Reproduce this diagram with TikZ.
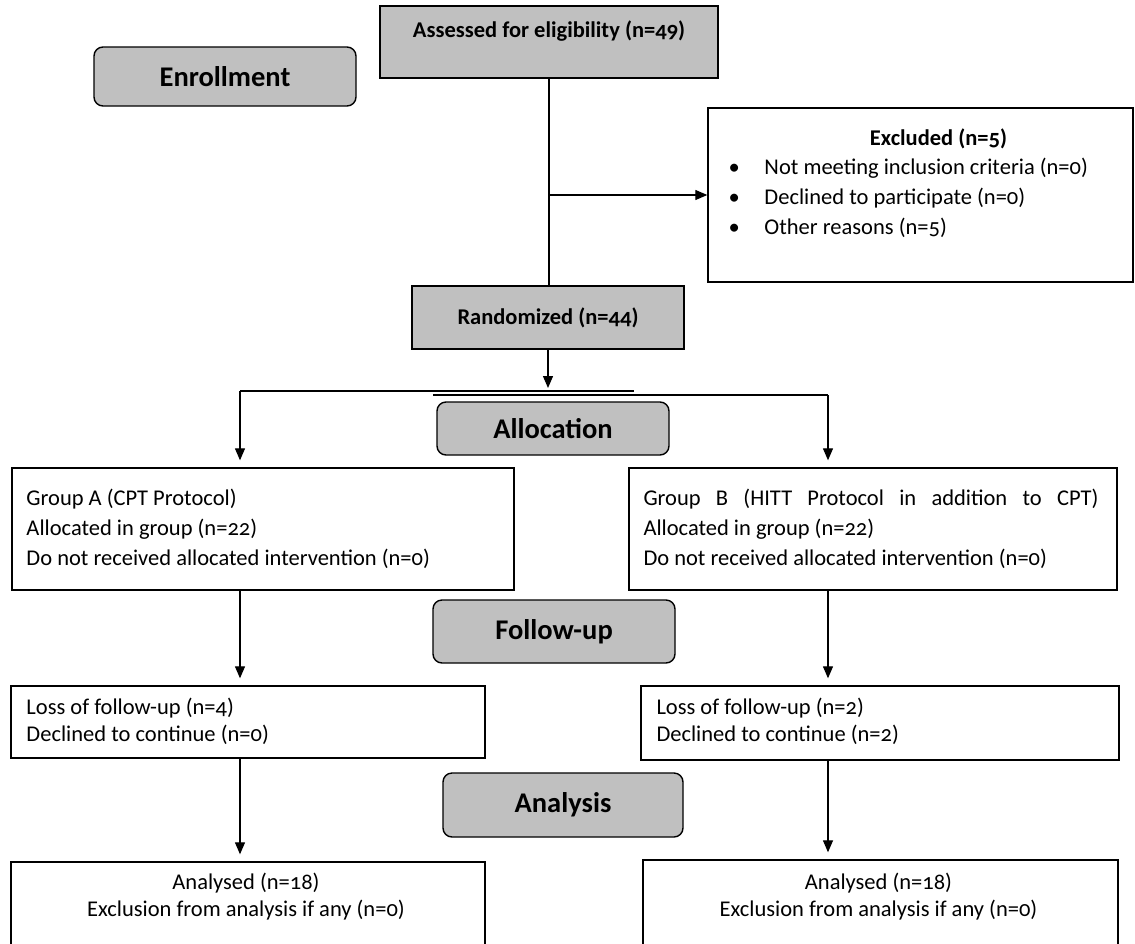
\documentclass[tikz,border=0pt]{standalone}
\usepackage{fontspec}
\setmainfont{Carlito}[Numbers=OldStyle]
\usetikzlibrary{arrows.meta,positioning}
\definecolor{boxgray}{RGB}{192,192,192}

\begin{document}
\begin{tikzpicture}[x=1pt,y=-1pt,
  stage/.style={draw,fill=boxgray,rounded corners=9pt,line width=1.4pt,
    font=\fontsize{28.5}{32}\selectfont\bfseries},
  graybox/.style={draw,fill=boxgray,line width=1.4pt,
    font=\fontsize{22.5}{26}\selectfont\bfseries},
  whitebox/.style={draw,fill=white,line width=1.4pt},
  boxtext/.style={inner sep=0pt,font=\fontsize{22.5}{30}\selectfont},
  flow/.style={line width=1.3pt},
  arr/.style={flow,-{Triangle[length=12pt,width=10pt]}},
  stopshort/.style={shorten >=7pt}]
\useasboundingbox (0,0) rectangle (1135,943);
\clip (0,0) rectangle (1135,943);
% stage labels
\node[stage,minimum width=262pt,minimum height=59pt] (enroll) at (225,76.5) {Enrollment};
\node[stage,minimum width=232pt,minimum height=53pt] (alloc) at (553,428.5) {Allocation};
\node[stage,minimum width=242pt,minimum height=63pt] (follow) at (554,631.5) {Follow-up};
\node[stage,minimum width=240pt,minimum height=64pt] (analysis) at (563,805) {Analysis};
% enrollment
\node[graybox,minimum width=338pt,minimum height=72pt,text height=16pt,text depth=26pt]
  (assess) at (549,42) {Assessed for eligibility (n=49)};
\node[whitebox,minimum width=425pt,minimum height=174pt] (excl) at (920.5,195) {};
\node[boxtext,anchor=north,font=\fontsize{22.5}{30}\selectfont\bfseries]
  (exclhead) at ([shift={(18,21)}]excl.north) {Excluded (n=5)};
\node[boxtext,anchor=north west,align=left] (exclist) at ([shift={(21,51)}]excl.north west)
  {\makebox[36pt][l]{\textbullet}Not meeting inclusion criteria (n=0)\\
   \makebox[36pt][l]{\textbullet}Declined to participate (n=0)\\
   \makebox[36pt][l]{\textbullet}Other reasons (n=5)};
\node[graybox,minimum width=272pt,minimum height=63pt] (rand) at (548,317.5) {Randomized (n=44)};
% allocation
\node[whitebox,minimum width=502pt,minimum height=122pt] (grpA) at (263,529) {};
\node[boxtext,anchor=north west,align=left] (grpAtext) at ([shift={(15,22)}]grpA.north west)
  {Group A (CPT Protocol)\\ Allocated in group (n=22)\\ Do not received allocated intervention (n=0)};
\node[whitebox,minimum width=488pt,minimum height=122pt] (grpB) at (873,529) {};
\node[boxtext,anchor=north west,align=left] (grpBtext) at ([shift={(15,22)}]grpB.north west)
  {\makebox[455pt][s]{Group B (HITT Protocol in addition to CPT)}\\ Allocated in group (n=22)\\
   Do not received allocated intervention (n=0)};
% follow-up
\node[whitebox,minimum width=474pt,minimum height=72pt] (lossA) at (248,722) {};
\node[boxtext,anchor=north west,align=left,font=\fontsize{22.5}{27}\selectfont]
  (lossAtext) at ([shift={(16,13)}]lossA.north west)
  {Loss of follow-up (n=4)\\ Declined to continue (n=0)};
\node[whitebox,minimum width=478pt,minimum height=74pt] (lossB) at (880,723) {};
\node[boxtext,anchor=north west,align=left,font=\fontsize{22.5}{27}\selectfont]
  (lossBtext) at ([shift={(16,13)}]lossB.north west)
  {Loss of follow-up (n=2)\\ Declined to continue (n=2)};
% analysis
\node[whitebox,minimum width=474pt,minimum height=128pt] (anaA) at (248,926) {};
\node[boxtext,anchor=north,align=center,font=\fontsize{22.5}{27}\selectfont]
  (anaAtext) at ([shift={(-2,12)}]anaA.north)
  {Analysed (n=18)\\ Exclusion from analysis if any (n=0)};
\node[whitebox,minimum width=475pt,minimum height=130pt] (anaB) at (880.5,925) {};
\node[boxtext,anchor=north,align=center,font=\fontsize{22.5}{27}\selectfont]
  (anaBtext) at ([shift={(-2,14)}]anaB.north)
  {Analysed (n=18)\\ Exclusion from analysis if any (n=0)};
% connectors
\coordinate (barL) at (240,391);
\coordinate (barLend) at (634,391);
\coordinate (barRstart) at (433,395);
\coordinate (barR) at (828,395);
\draw[flow] (assess.south) -- (assess.south |- rand.north);
\draw[arr] (assess.south |- excl.west) -- (excl.west);
\draw[arr,shorten >=3pt] (rand.south) -- (rand.south |- barL);
\draw[flow] (barL) -- (barLend);
\draw[flow] (barRstart) -- (barR);
\draw[arr,stopshort] (barL) -- (barL |- grpA.north);
\draw[arr,stopshort] (barR) -- (barR |- grpB.north);
\draw[arr,stopshort] (barL |- grpA.south) -- (barL |- lossA.north);
\draw[arr,stopshort] (barR |- grpB.south) -- (barR |- lossB.north);
\draw[arr,stopshort] (barL |- lossA.south) -- (barL |- anaA.north);
\draw[arr,stopshort] (barR |- lossB.south) -- (barR |- anaB.north);
\end{tikzpicture}
\end{document}
